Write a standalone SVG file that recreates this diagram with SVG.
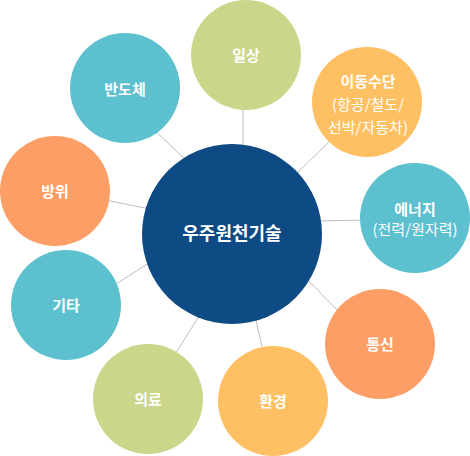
<svg xmlns="http://www.w3.org/2000/svg" width="470" height="456" viewBox="0 0 470 456">
<style>
.ln{stroke:#bdbdbd;stroke-width:1;fill:none}
.t{font-family:"Noto Sans CJK KR","Noto Sans",sans-serif;fill:#fff;text-anchor:middle;font-size:15px}
.b{font-weight:bold}
.g{fill:#cbd68a}.c{fill:#5cc0cf}.o{fill:#fec062}.s{fill:#fe9e67}.n{fill:#0e4a84}
</style>
<rect width="470" height="456" fill="#fff"/>
<g id="connectors">
<line class="ln" x1="243" y1="100" x2="243" y2="160"/>
<line class="ln" x1="150" y1="126" x2="190" y2="164"/>
<line class="ln" x1="335" y1="136" x2="292" y2="178"/>
<line class="ln" x1="100" y1="199" x2="155" y2="210"/>
<line class="ln" x1="315" y1="221" x2="368" y2="220"/>
<line class="ln" x1="110" y1="288" x2="155" y2="259"/>
<line class="ln" x1="302" y1="274" x2="343" y2="316"/>
<line class="ln" x1="172" y1="359" x2="203" y2="310"/>
<line class="ln" x1="254" y1="312" x2="264" y2="355"/>
</g>
<g id="n-ilsang"><circle class="g" cx="246" cy="55" r="55"/><text class="t b" x="246" y="61">일상</text></g>
<g id="n-bandoche"><circle class="c" cx="125" cy="88" r="55"/><text class="t b" x="125" y="95">반도체</text></g>
<g id="n-idong"><circle class="o" cx="367" cy="102" r="55"/><text class="t b" x="368" y="87">이동수단</text><text class="t" x="368" y="110">(항공/철도/</text><text class="t" x="368" y="133">선박/자동차)</text></g>
<g id="n-bangwi"><circle class="s" cx="55" cy="191" r="55"/><text class="t b" x="55" y="197">방위</text></g>
<g id="n-energy"><circle class="c" cx="415" cy="218" r="55"/><text class="t b" x="415" y="215">에너지</text><text class="t" x="415" y="235">(전력/원자력)</text></g>
<g id="n-gita"><circle class="c" cx="66" cy="305" r="55"/><text class="t b" x="66" y="311">기타</text></g>
<g id="n-tongsin"><circle class="s" cx="380" cy="344" r="55"/><text class="t b" x="380" y="350">통신</text></g>
<g id="n-uiryo"><circle class="g" cx="148" cy="399" r="55"/><text class="t b" x="148" y="405">의료</text></g>
<g id="n-hwangyeong"><circle class="o" cx="273" cy="401" r="55"/><text class="t b" x="273" y="407">환경</text></g>
<g id="n-center"><circle class="n" cx="232" cy="234" r="90"/><text class="t b" x="232" y="240" style="font-size:18px">우주원천기술</text></g>
</svg>
